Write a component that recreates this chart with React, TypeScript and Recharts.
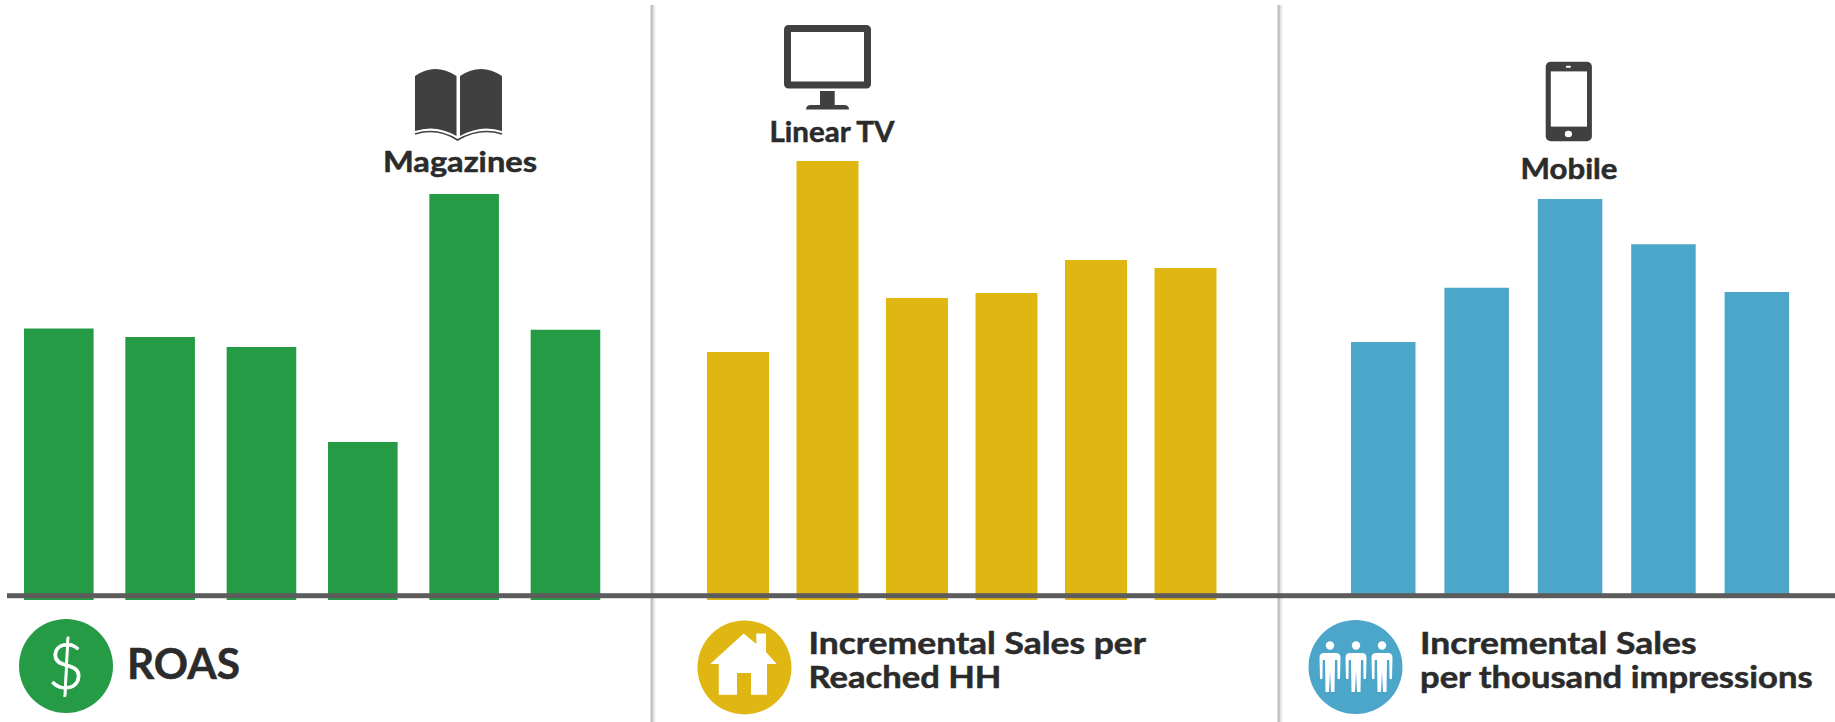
import { BarChart, Bar, XAxis, YAxis } from 'recharts';

// bar heights (no scale is printed, 100 = top of the plot)
const roasCategories = ['A', 'B', 'C', 'D', 'Magazines', 'F'];
const roasValues = [45.25, 43.85, 42.15, 26.35, 67.65, 45.05];
const salesHHCategories = ['A', 'Linear TV', 'C', 'D', 'E', 'F'];
const salesHHValues = [41.35, 73.15, 50.35, 51.15, 56.65, 55.35];
const salesImpCategories = ['A', 'B', 'Mobile', 'D', 'E'];
const salesImpValues = [42.6, 51.7, 66.6, 59, 51];

const GREEN = '#259B46';
const YELLOW = '#E0B712';
const BLUE = '#4BA6CA';
const ICON = '#404040';
const TEXT = '#2B2B2B';
const AXIS = '#5C5C5C';
const FONT = 'Lato, sans-serif';

const toRows = (cats: string[], vals: number[]) => cats.map((name, i) => ({ name, value: vals[i] }));

function Panel({ cats, vals, color, left, width, height, barSize }: any) {
  return (
    <div style={{ position: 'absolute', left, top: 0 }}>
      <BarChart width={width} height={height} data={toRows(cats, vals)} margin={{ top: 0, right: 0, bottom: 0, left: 0 }}>
        <XAxis dataKey="name" hide />
        <YAxis domain={[0, 100]} hide />
        <Bar dataKey="value" fill={color} barSize={barSize} isAnimationActive={false} />
      </BarChart>
    </div>
  );
}

function Label({ x, y, w, size, children }: any) {
  return (
    <text x={x} y={y} textLength={w} lengthAdjust="spacingAndGlyphs" fontFamily={FONT} fontWeight={700} fontSize={size} fill={TEXT} stroke={TEXT} strokeWidth={0.5}>
      {children}
    </text>
  );
}

const PERSON = 'M-6 -14 H6 Q10.5 -14 10.5 -9 L10 12 H7.5 L7.3 -7 H5 L4.5 25 H1 L0 4 L-1 25 H-4.5 L-5 -7 H-7.3 L-7.5 12 H-10 L-10.5 -9 Q-10.5 -14 -6 -14Z';

function Overlay() {
  return (
    <svg width={1835} height={722} style={{ position: 'absolute', left: 0, top: 0 }}>
      {/* dividers */}
      <rect x={650.5} y={5} width={5} height={717} fill="#eeeeee" />
      <rect x={650.5} y={5} width={2.8} height={717} fill="#c4c4c4" />
      <rect x={1277.5} y={5} width={5} height={717} fill="#eeeeee" />
      <rect x={1277.5} y={5} width={2.8} height={717} fill="#c4c4c4" />
      {/* baseline */}
      <rect x={7} y={593.2} width={1828} height={5} fill={AXIS} />

      {/* book */}
      <path d="M415 76 Q435 62 456.5 76 V136 Q436 124 415 131Z" fill={ICON} />
      <path d="M502 76 Q481 62 460 76 V136 Q481 124 502 131Z" fill={ICON} />
      <path d="M415 134 Q437 127 457.5 140 Q480 127 502 134" fill="none" stroke={ICON} strokeWidth={1.5} />
      <Label x={383} y={171.7} w={154} size={28}>Magazines</Label>

      {/* tv */}
      <rect x={787.5} y={28.5} width={80} height={56.5} rx={1} fill="none" stroke={ICON} strokeWidth={7} />
      <rect x={820} y={91} width={14.7} height={14} fill={ICON} />
      <path d="M806 109.6 Q806 105 811 105 H844 Q849 105 849 109.6Z" fill={ICON} />
      <Label x={769.5} y={141.8} w={125} size={28}>Linear TV</Label>

      {/* phone */}
      <rect x={1545.7} y={61.7} width={46.2} height={79.6} rx={5} fill={ICON} />
      <rect x={1550.8} y={71.4} width={36.2} height={55.2} fill="#fff" />
      <rect x={1565.8} y={65.8} width={5.2} height={2} rx={1} fill="#fff" />
      <ellipse cx={1568.4} cy={134} rx={3.6} ry={3.2} fill="#fff" />
      <Label x={1520.5} y={178.6} w={97} size={28}>Mobile</Label>

      {/* roas */}
      <ellipse cx={66} cy={666} rx={47} ry={47} fill={GREEN} />
      <text x={66} y={689} textAnchor="middle" fontFamily={FONT} fontWeight={300} fontSize={64} fill="#fff" stroke="#fff" strokeWidth={0.8}>$</text>
      <Label x={127} y={679} w={113} size={42}>ROAS</Label>

      {/* incremental sales per reached hh */}
      <ellipse cx={744.5} cy={667.4} rx={47} ry={47} fill={YELLOW} />
      <path d="M743.7 633.5 L756.3 644 V633.5 H766 V652 L776.7 664 H767 V694.7 H751 V673 H737 V694.7 H718.8 V664 H710.2Z" fill="#fff" />
      <Label x={808.5} y={653.8} w={337.5} size={30}>Incremental Sales per</Label>
      <Label x={808.5} y={687.8} w={193} size={30}>Reached HH</Label>

      {/* incremental sales per thousand impressions */}
      <ellipse cx={1355.5} cy={667} rx={47} ry={47} fill={BLUE} />
      {[1330, 1356, 1382].map((x) => (
        <g key={x} transform={`translate(${x} 667)`}>
          <circle cx={0} cy={-21.5} r={4.2} fill="#fff" />
          <path d={PERSON} fill="#fff" />
        </g>
      ))}
      <Label x={1420} y={653.8} w={276.5} size={30}>Incremental Sales</Label>
      <Label x={1420} y={688} w={392.6} size={30}>per thousand impressions</Label>
    </svg>
  );
}

export default function App() {
  return (
    <div style={{ position: 'absolute', left: 0, top: 0, width: 1835, height: 722, background: '#fff', overflow: 'hidden' }}>
      <Panel cats={roasCategories} vals={roasValues} color={GREEN} left={7.6} width={608} height={600} barSize={69.6} />
      <Panel cats={salesHHCategories} vals={salesHHValues} color={YELLOW} left={693} width={537} height={600} barSize={62} />
      <Panel cats={salesImpCategories} vals={salesImpValues} color={BLUE} left={1337} width={467} height={596} barSize={64.5} />
      <Overlay />
    </div>
  );
}
